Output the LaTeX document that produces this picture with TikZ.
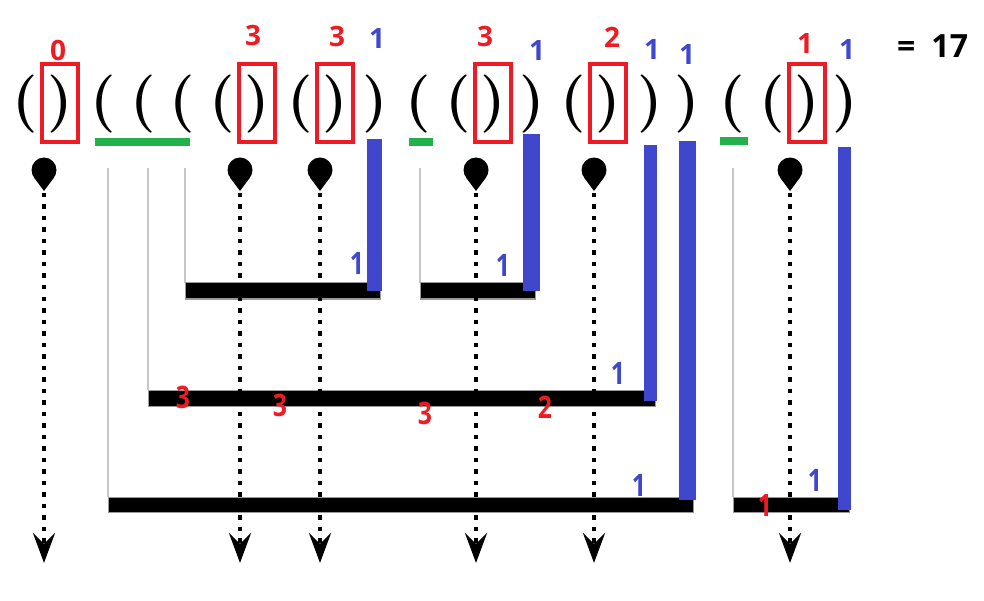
\documentclass[tikz,border=0pt]{standalone}
\usepackage{fontspec}
\newfontfamily\numfont{Open Sans}
\newfontfamily\narrowfont{Open Sans}[FakeStretch=0.8]
\usetikzlibrary{arrows.meta}
\definecolor{mred}{RGB}{237,28,36}
\definecolor{mblue}{RGB}{63,72,204}
\definecolor{mgreen}{RGB}{34,177,76}
\tikzset{
  paren/.style={inner sep=0pt, font=\fontsize{58}{58}\selectfont\bfseries},
  hit/.style={draw=mred, line width=3.5pt, minimum width=36pt, minimum height=78pt},
  redno/.style={inner sep=0pt, text=mred, font=\fontsize{28}{28}\selectfont\numfont\bfseries},
  blueno/.style={inner sep=0pt, text=mblue, font=\fontsize{28}{28}\selectfont\numfont\bfseries},
  redbar/.style={inner sep=0pt, text=mred, font=\fontsize{31}{31}\selectfont\narrowfont\bfseries},
  bluebar/.style={inner sep=0pt, text=mblue, font=\fontsize{31}{31}\selectfont\narrowfont\bfseries},
  dot/.style={circle, fill=black, minimum size=25pt, inner sep=0pt},
  drop/.style={line width=4.5pt, dash pattern=on 4.5pt off 7pt, -{Stealth[length=30pt, width=22pt, inset=11pt]}},
  guide/.style={black!22, line width=1.5pt},
  bar/.style={fill=black, draw=black!40, line width=1pt}
}
\begin{document}
\begin{tikzpicture}[x=1pt,y=-1pt]
\useasboundingbox (0,0) rectangle (984,601);

\foreach \x [count=\i] in {25,103,143,182,222,300,418,458,573,732,772}
  \node[paren] (o\i) at (\x,104) {(};
\foreach \x [count=\i] in {60,257,335,375,493,532,608,650,687,807,845}
  \node[paren] (c\i) at (\x,104) {)};
\foreach \i in {1,2,3,5,7,10}
  \node[hit] (h\i) at ([yshift=1pt]c\i) {};

\node[redno] at (58,50) {0};
\node[redno] at (253,36) {3};
\node[redno] at (337,37) {3};
\node[redno] at (485,37) {3};
\node[redno] at (612,37) {2};
\node[redno] at (805,44) {1};
\node[blueno] at (377,39) {1};
\node[blueno] at (537,51) {1};
\node[blueno] at (652,50) {1};
\node[blueno] at (687,55) {1};
\node[blueno] at (847,50) {1};
\node[anchor=west, inner sep=0pt, font=\fontsize{32}{32}\selectfont\numfont\bfseries] (sum) at (897,46) {=\hspace{16pt}17};

\fill[mgreen] (95,138) rectangle (190,146);
\fill[mgreen] (409,138) rectangle (433,146);
\fill[mgreen] (720,137) rectangle (748,145);

\draw[guide] (108,168) -- (108,497);
\draw[guide] (148,168) -- (148,390);
\draw[guide] (185,168) -- (185,283);
\draw[guide] (420,168) -- (420,283);
\draw[guide] (733,168) -- (733,497);

\draw[bar] (185,283) rectangle (380,299);
\draw[bar] (420,283) rectangle (535,299);
\draw[bar] (148,390) rectangle (655,406);
\draw[bar] (108,497) rectangle (693,512);
\draw[bar] (733,497) rectangle (849,512);

\foreach \x [count=\i] in {44,240,320,476,594,790} {
  \node[dot] (d\i) at (\x,170) {};
  \coordinate (e\i) at (\x,563);
  \draw[drop] (d\i.center) -- (e\i);
  \fill (\x-10,177.5) -- (\x+10,177.5) -- (\x,191) -- cycle;
}

\fill[mblue] (367,139) rectangle (382,291);
\fill[mblue] (523,134) rectangle (540,291);
\fill[mblue] (644,145) rectangle (657,401);
\fill[mblue] (679,141) rectangle (696,500);
\fill[mblue] (838,147) rectangle (851,510);

\node[bluebar] at (357,263) {1};
\node[bluebar] at (503,265) {1};
\node[bluebar] at (618,373) {1};
\node[bluebar] at (639,485) {1};
\node[bluebar] at (815,480) {1};
\node[redbar] at (183,397) {3};
\node[redbar] at (280,405) {3};
\node[redbar] at (425,413) {3};
\node[redbar] at (545,407) {2};
\node[redbar] at (765,505) {1};
\end{tikzpicture}
\end{document}
